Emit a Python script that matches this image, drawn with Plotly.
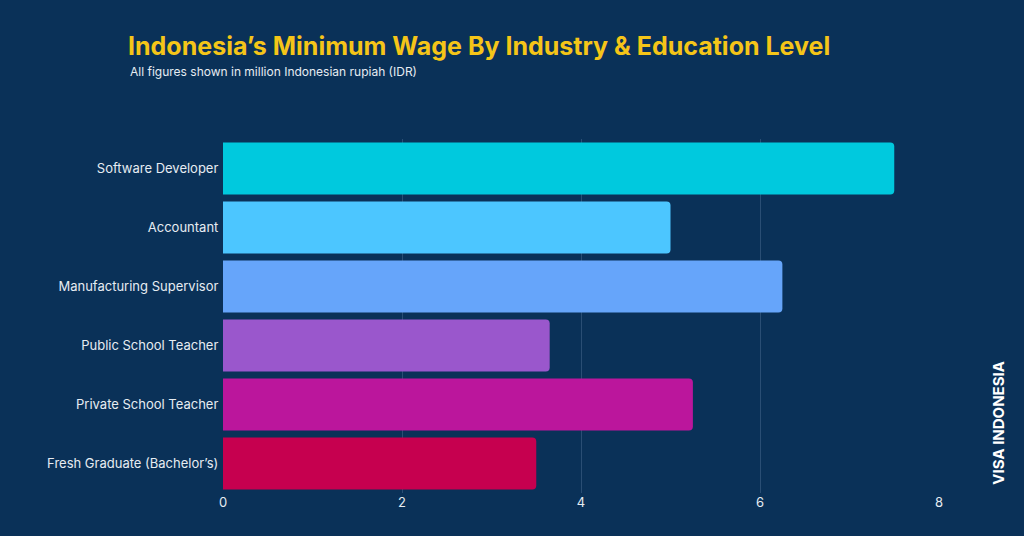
import plotly.graph_objects as go

# data (million IDR)
jobs = ["Software Developer", "Accountant", "Manufacturing Supervisor",
        "Public School Teacher", "Private School Teacher", "Fresh Graduate (Bachelor’s)"]
wages = [7.5, 5.0, 6.25, 3.65, 5.25, 3.5]
colours = ["#00C9DE", "#4CC6FF", "#66A5FA", "#9A57CC", "#BB169C", "#C6004F"]

bg = "#0A3158"

fig = go.Figure(go.Bar(
    x=wages, y=jobs, orientation="h",
    marker=dict(color=colours, line=dict(width=0)),
))

fig.update_layout(
    width=1024, height=536,
    paper_bgcolor=bg, plot_bgcolor=bg,
    font=dict(family="Inter", color="#E6ECF2", size=13),
    margin=dict(l=223, r=85, t=139, b=43),
    bargap=0.12,
    barcornerradius=4,
    showlegend=False,
    xaxis=dict(range=[0, 8], tickvals=[0, 2, 4, 6, 8], showgrid=True,
               gridcolor="#2A4E74", gridwidth=1, zeroline=False,
               ticks="", tickfont=dict(size=13, color="#E6ECF2")),
    yaxis=dict(autorange="reversed", showgrid=False, ticks="",
               ticksuffix=" ", tickfont=dict(size=13, color="#E6ECF2")),
)

fig.add_annotation(text="<b>Indonesia’s Minimum Wage By Industry & Education Level</b>",
                   xref="paper", yref="paper", x=-0.135, y=1.262,
                   xanchor="left", yanchor="middle", showarrow=False,
                   font=dict(family="Inter", size=25, color="#F5C518"))
fig.add_annotation(text="All figures shown in million Indonesian rupiah (IDR)",
                   xref="paper", yref="paper", x=-0.133, y=1.19,
                   xanchor="left", yanchor="middle", showarrow=False,
                   font=dict(family="Inter", size=12, color="#E6ECF2"))
fig.add_annotation(text="<b>VISA INDONESIA</b>", textangle=-90,
                   xref="paper", yref="paper", x=1.083, y=0.2,
                   xanchor="center", yanchor="middle", showarrow=False,
                   font=dict(family="Inter", size=15, color="#FFFFFF"))

fig.write_html("out.html", config={"displayModeBar": False},
               post_script="document.body.style.margin='0';")
